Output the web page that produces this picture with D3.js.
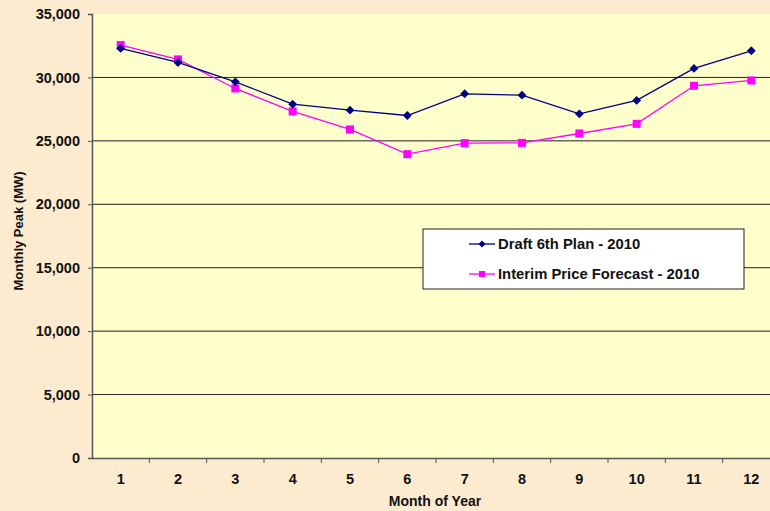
<!DOCTYPE html>
<html>
<head>
<meta charset="utf-8">
<script src="https://cdn.jsdelivr.net/npm/d3@7"></script>
<style>
  body { margin: 0; background: #fdebd0; }
  svg { display: block; font-family: Arial, "Liberation Sans", sans-serif; }
  .axis text { font-size: 14.5px; font-weight: bold; fill: #111; }
  .axis path, .axis line { stroke: #555; }
  .grid line { stroke: #222; }
  .title { font-size: 14px; font-weight: bold; fill: #111; }
  .legend text { font-size: 14.8px; font-weight: bold; fill: #111; }
</style>
</head>
<body>
<svg width="770" height="511"></svg>
<script>
var months = [1, 2, 3, 4, 5, 6, 7, 8, 9, 10, 11, 12];
var draftPlan = [32290, 31180, 29650, 27890, 27420, 27000, 28710, 28600, 27130, 28190, 30710, 32100];
var interimForecast = [32550, 31420, 29130, 27320, 25900, 23950, 24820, 24840, 25580, 26340, 29340, 29760];
var yTicks = [0, 5000, 10000, 15000, 20000, 25000, 30000, 35000];
var seriesNames = ['Draft 6th Plan - 2010', 'Interim Price Forecast - 2010'];

var svg = d3.select('svg');
var margin = {top: 14, left: 92}
  , width = 688  // plot runs past the right edge like the original
  , height = 444;

var x = d3.scaleBand().domain(months).range([0, width]);
var y = d3.scaleLinear().domain([0, 35000]).range([height, 0]);

var g = svg.append('g')
    .attr('transform', 'translate(' + margin.left + ',' + margin.top + ')');

// plot background
g.append('rect')
    .attr('width', width).attr('height', height)
    .attr('fill', '#ffffcc');

// horizontal gridlines
g.append('g')
    .attr('class', 'grid')
    .selectAll('line')
    .data(yTicks.filter(function(d) { return d > 0 && d < 35000; }))
  .enter().append('line')
    .attr('x1', 0).attr('x2', width)
    .attr('y1', function(d) { return y(d); })
    .attr('y2', function(d) { return y(d); });

// y axis
var yAxis = g.append('g')
    .attr('class', 'axis')
    .call(d3.axisLeft(y).tickValues(yTicks).tickSize(4).tickPadding(8)
      .tickFormat(d3.format(',')));
yAxis.select('.domain').attr('stroke-width', 1.5);

// x axis, ticks at category boundaries
var xAxis = g.append('g')
    .attr('class', 'axis')
    .attr('transform', 'translate(0,' + height + ')')
    .call(d3.axisBottom(x).tickSize(0).tickPadding(16));
xAxis.select('.domain').attr('stroke-width', 1.5);
xAxis.selectAll('.bound')
    .data(months.slice(1))
  .enter().append('line')
    .attr('class', 'bound')
    .attr('x1', function(d) { return x(d); })
    .attr('x2', function(d) { return x(d); })
    .attr('y1', 0).attr('y2', 5)
    .attr('stroke', '#555');

var line = d3.line()
    .x(function(d, i) { return x(months[i]) + x.bandwidth() / 2; })
    .y(function(d) { return y(d); });

// interim forecast (magenta squares)
g.append('path')
    .datum(interimForecast)
    .attr('d', line)
    .attr('fill', 'none')
    .attr('stroke', '#ff00ff')
    .attr('stroke-width', 1.3);
g.selectAll('.sq')
    .data(interimForecast)
  .enter().append('rect')
    .attr('class', 'sq')
    .attr('x', function(d, i) { return x(months[i]) + x.bandwidth() / 2 - 4; })
    .attr('y', function(d) { return y(d) - 4; })
    .attr('width', 8).attr('height', 8)
    .attr('fill', '#ff00ff');

// draft plan (navy diamonds)
var diamond = d3.symbol().type(d3.symbolDiamond2).size(50);
g.append('path')
    .datum(draftPlan)
    .attr('d', line)
    .attr('fill', 'none')
    .attr('stroke', '#000080')
    .attr('stroke-width', 1.3);
g.selectAll('.dm')
    .data(draftPlan)
  .enter().append('path')
    .attr('class', 'dm')
    .attr('d', diamond)
    .attr('transform', function(d, i) {
      return 'translate(' + (x(months[i]) + x.bandwidth() / 2) + ',' + y(d) + ')';
    })
    .attr('fill', '#000080');

// axis titles
svg.append('text')
    .attr('class', 'title')
    .attr('x', 435).attr('y', 506)
    .attr('text-anchor', 'middle')
    .text('Month of Year');
svg.append('text')
    .attr('class', 'title')
    .attr('font-size', '13px')
    .attr('transform', 'translate(23,231) rotate(-90)')
    .attr('text-anchor', 'middle')
    .style('font-size', '13px')
    .text('Monthly Peak (MW)');

// legend
var legend = svg.append('g')
    .attr('class', 'legend')
    .attr('transform', 'translate(423,229)');
legend.append('rect')
    .attr('width', 321).attr('height', 60)
    .attr('fill', '#fff')
    .attr('stroke', '#222');
var colors = ['#000080', '#ff00ff'];
var items = legend.selectAll('.item')
    .data(seriesNames)
  .enter().append('g')
    .attr('class', 'item')
    .attr('transform', function(d, i) { return 'translate(46,' + (15 + i * 30) + ')'; });
items.append('line')
    .attr('x1', 0).attr('x2', 26)
    .attr('stroke', function(d, i) { return colors[i]; })
    .attr('stroke-width', 1.3);
items.append('path')
    .attr('d', function(d, i) {
      return i === 0 ? d3.symbol().type(d3.symbolDiamond2).size(30)() : d3.symbol().type(d3.symbolSquare).size(36)();
    })
    .attr('transform', 'translate(13,0)')
    .attr('fill', function(d, i) { return colors[i]; });
items.append('text')
    .attr('x', 29).attr('dy', '0.35em')
    .text(function(d) { return d; });
</script>
</body>
</html>
